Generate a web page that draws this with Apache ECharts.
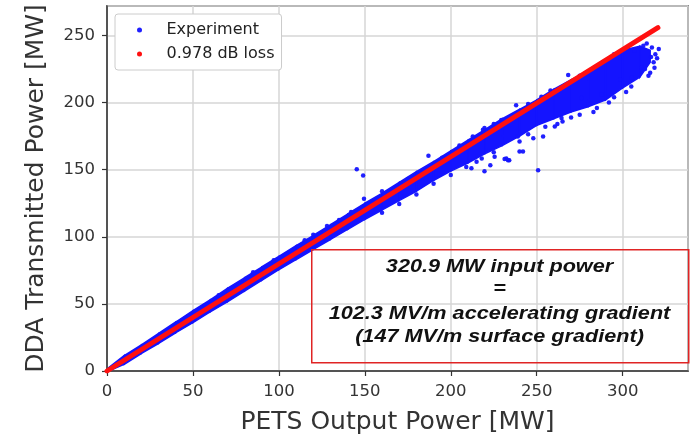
<!DOCTYPE html>
<html>
<head>
<meta charset="utf-8">
<script src="https://cdn.jsdelivr.net/npm/echarts@6/dist/echarts.min.js"></script>
<style>
  html, body { margin: 0; padding: 0; background: #fff; }
  #chart { width: 696px; height: 434px; }
</style>
</head>
<body>
<div id="chart"></div>
<script>
const bandX     = [1, 10, 20, 30, 40, 50, 60, 70, 80, 90, 100, 110, 120, 130, 140, 150, 160, 170, 180, 190, 200, 210, 220, 230, 240, 250, 260, 270, 280, 290, 300, 310, 316]
const bandUpper = [2.5, 11.5, 19.5, 28, 36.5, 45, 53, 61.5, 69.5, 77.5, 85.5, 93.5, 101, 109, 117, 125, 132.5, 140.5, 148.5, 156, 164, 172, 180, 188, 195, 202, 210, 217, 224, 232, 239, 242, 239]
const bandLower = [0, 5, 13, 20.5, 28.5, 36, 44, 51.5, 59.5, 67.5, 75.5, 83, 90.5, 98, 105.5, 113, 120, 127, 134, 142, 149, 155, 162, 168, 175, 183, 188, 193, 197, 202, 211, 219, 230]

// loose experiment points around the edges + outliers
const expPoints = [
  [145.3, 150.4], [149, 145.6], [149.5, 128.3], [250.8, 149.6],
  [232.3, 158.4], [234, 157], [223, 153.4], [212, 151], [218, 158.4], [225.5, 159.7],
  [240, 163.5], [239, 174.7], [248, 173.5], [238, 198], [229.4, 187], [218.7, 179.7],
  [212.8, 174.7], [187, 160.4], [268.3, 220.6], [252.7, 204.3], [219.6, 181],
  [253.7, 174.7], [260.5, 182.2], [264.4, 188.5], [276, 203.5], [280, 198.5],
  [287.8, 206], [298.5, 217.3], [305.3, 218.6], [316, 222.3], [321, 240], [318, 230],
  [312, 242.4], [307, 238.6], [233.3, 157], [231.3, 158], [219.6, 148.9], [209, 152],
  [240, 171], [242, 163.5], [160, 134], [175, 143], [195, 159], [205, 168], [225, 184],
  [245, 199], [258, 209], [275, 220], [295, 236], [160, 118], [170, 124.5], [180, 131.5],
  [190, 139.5], [200, 146], [215, 156], [225, 163], [245, 176.5], [255, 182], [265, 186],
  [275, 191], [285, 196], [295, 204], [305, 212], [315, 220], [283, 193], [292, 200],
  [270, 189], [262, 184], [302, 208], [311, 226], [120, 101.5], [135, 112.5], [108, 86],
  [65, 56.5], [85, 73.5], [97, 82.5], [115, 97.5], [128, 108], [142, 118.5],
  [319, 236], [318.5, 226], [317, 241], [320, 233], [314, 244], [316.5, 234], [313, 225]
]

// 0.978 dB loss reference line
const lossX = [0, 320.5]
const lossY = [0, 255.8]

const xTicks = [0, 50, 100, 150, 200, 250, 300]
const yTicks = [0, 50, 100, 150, 200, 250]

const boxLines = [
  '320.9 MW input power',
  '=',
  '102.3 MV/m accelerating gradient',
  '(147 MV/m surface gradient)'
]
const boxLineY = [267, 289, 314, 337]

const BLUE = '#1414ff'
const RED = '#ff1010'
const tickFont = { fontFamily: 'DejaVu Sans', fontSize: 16.5, color: '#333' }

const myChart = echarts.init(document.getElementById('chart'))

const option = {
  animation: false,
  backgroundColor: '#fff',
  grid: {
    left: 107, right: 8, top: 6, bottom: 63,
    outerBoundsMode: 'none',
    containLabel: false,
    show: true, borderColor: '#333', borderWidth: 1.5, backgroundColor: 'transparent'
  },
  legend: {
    orient: 'vertical',
    left: 115, top: 14,
    padding: [7, 7, 7, 22],
    itemGap: 6,
    itemWidth: 20, itemHeight: 5,
    backgroundColor: '#fff',
    borderColor: '#ccc', borderWidth: 1, borderRadius: 3,
    textStyle: { fontFamily: 'DejaVu Sans', fontSize: 16, color: '#222', lineHeight: 18, padding: [0, 0, 0, 12] },
    data: [
      { name: 'Experiment', icon: 'circle', itemStyle: { color: BLUE } },
      { name: '0.978 dB loss', icon: 'circle', itemStyle: { color: RED } }
    ]
  },
  xAxis: {
    type: 'value', min: 0, max: 338, interval: 50,
    name: 'PETS Output Power [MW]', nameLocation: 'middle', nameGap: 39,
    nameTextStyle: { fontFamily: 'DejaVu Sans', fontSize: 25, color: '#333' },
    axisLine: { show: true, onZero: false, lineStyle: { color: '#333', width: 1.5 } },
    axisTick: { show: true, length: 5, lineStyle: { color: '#333', width: 1.2 } },
    axisLabel: Object.assign({ margin: 12, showMaxLabel: false, formatter: v => xTicks.includes(v) ? String(v) : '' }, tickFont),
    splitLine: { show: true, lineStyle: { color: '#d6d6d6', width: 1.5 } }
  },
  yAxis: {
    type: 'value', min: 0, max: 272, interval: 50,
    name: 'DDA Transmitted Power [MW]', nameLocation: 'middle', nameGap: 58,
    nameTextStyle: { fontFamily: 'DejaVu Sans', fontSize: 25, color: '#333' },
    axisLine: { show: true, onZero: false, lineStyle: { color: '#333', width: 1.5 } },
    axisTick: { show: true, length: 5, lineStyle: { color: '#333', width: 1.2 } },
    axisLabel: Object.assign({ margin: 12, showMaxLabel: false, formatter: v => yTicks.includes(v) ? String(v) : '' }, tickFont),
    splitLine: { show: true, lineStyle: { color: '#d6d6d6', width: 1.5 } }
  },
  series: [
    {
      name: 'Experiment band',
      type: 'custom',
      clip: true,
      silent: true,
      data: bandX.map((x, i) => [x, bandUpper[i], bandLower[i]]),
      renderItem: (params, api) => {
        const i = params.dataIndex
        if (i >= bandX.length - 1) return null
        const pts = [
          api.coord([bandX[i], bandUpper[i]]),
          api.coord([bandX[i + 1], bandUpper[i + 1]]),
          api.coord([bandX[i + 1], bandLower[i + 1]]),
          api.coord([bandX[i], bandLower[i]])
        ]
        return {
          type: 'polygon',
          shape: { points: pts },
          style: { fill: BLUE, stroke: BLUE, lineWidth: 1.5 }
        }
      }
    },
    {
      name: 'Experiment',
      type: 'scatter',
      symbolSize: 4.5,
      itemStyle: { color: BLUE, opacity: 0.95 },
      data: expPoints
    },
    {
      name: '0.978 dB loss',
      type: 'line',
      symbol: 'circle',
      showSymbol: false,
      lineStyle: { color: RED, width: 5, cap: 'round' },
      itemStyle: { color: RED },
      data: lossX.map((x, i) => [x, lossY[i]])
    }
  ],
  graphic: [
    {
      type: 'rect',
      left: 311, top: 249,
      shape: { width: 377, height: 113 },
      style: { fill: 'transparent', stroke: '#e02424', lineWidth: 1.5 },
      z: 100
    }
  ].concat(boxLines.map((t, i) => ({
    type: 'text',
    x: 499.5,
    y: boxLineY[i],
    scaleX: 1.17,
    style: {
      text: t,
      font: 'italic bold 18.5px "Liberation Sans", Arial, sans-serif',
      fill: '#111',
      align: 'center',
      verticalAlign: 'middle'
    },
    z: 100
  })))
}

myChart.setOption(option)
</script>
</body>
</html>
